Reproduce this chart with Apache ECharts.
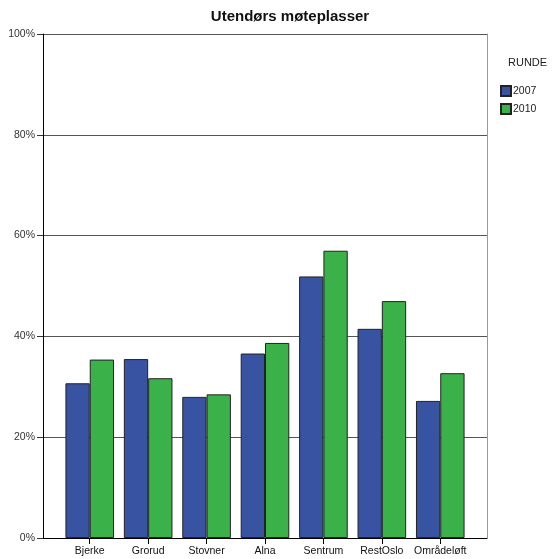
<!DOCTYPE html>
<html>
<head>
<meta charset="utf-8">
<script src="https://cdn.jsdelivr.net/npm/echarts@6/dist/echarts.min.js"></script>
<style>
html,body{margin:0;padding:0;background:#fff;}
#chart{width:554px;height:559px;}
</style>
</head>
<body>
<div id="chart"></div>
<script>
const categories = ['Bjerke','Grorud','Stovner','Alna','Sentrum','RestOslo','Områdeløft'];
const values2007 = [30.7, 35.5, 28.0, 36.6, 51.9, 41.5, 27.2];
const values2010 = [35.4, 31.7, 28.5, 38.7, 57.0, 47.0, 32.7];
const seriesNames = ['2007','2010'];
const yTicks = [0,20,40,60,80,100];

const idx = categories.map((c,i)=>i);
const font = 'Liberation Sans, Arial, sans-serif';
const chart = echarts.init(document.getElementById('chart'), null, {renderer:'canvas'});
chart.setOption({
  animation:false,
  backgroundColor:'#fff',
  title:[
    {text:'Utendørs møteplasser', left:290, top:9, padding:0, textAlign:'center',
     textStyle:{fontFamily:font,fontSize:15,fontWeight:'bold',color:'#111'}},
    {text:'RUNDE', left:508, top:57, padding:0,
     textStyle:{fontFamily:font,fontSize:11,fontWeight:'normal',color:'#222'}}
  ],
  legend:{
    orient:'vertical', left:500, top:85, padding:0, itemWidth:10, itemHeight:10, itemGap:6,
    icon:'rect', data:seriesNames,
    textStyle:{fontFamily:font,fontSize:10.5,color:'#222',padding:[0,0,0,-3]}
  },
  grid:{left:43, right:67, top:34, bottom:21},
  xAxis:[{
    type:'value', min:-0.8, max:6.8,
    axisLine:{show:true,onZero:false,lineStyle:{color:'#000',width:1}},
    axisTick:{show:true,length:6,customValues:idx,lineStyle:{color:'#000'}},
    axisLabel:{show:true,customValues:idx,margin:8,fontFamily:font,fontSize:10.5,color:'#111',
      formatter:v=>categories[Math.round(v)]},
    splitLine:{show:false}
  }],
  yAxis:[{
    type:'value', min:0, max:100, interval:20,
    axisLine:{show:true,onZero:false,lineStyle:{color:'#000',width:1}},
    axisTick:{show:true,length:6,lineStyle:{color:'#333'}},
    axisLabel:{margin:8,fontFamily:font,fontSize:10.5,color:'#333',formatter:'{value}%'},
    splitLine:{show:true,lineStyle:{color:'#555',width:1}}
  },{
    type:'value', min:0, max:100, interval:20, position:'right',
    axisLine:{show:true,onZero:false,lineStyle:{color:'#999',width:1}},
    axisTick:{show:false}, axisLabel:{show:false}, splitLine:{show:false}
  }],
  series:[
    {name:seriesNames[0], type:'bar', barWidth:24.3, barGap:'0%',
     data:values2007.map((v,i)=>[idx[i],v]),
     itemStyle:{color:'#3953a3',borderColor:'#222',borderWidth:1}},
    {name:seriesNames[1], type:'bar', barWidth:24.3, barGap:'0%',
     data:values2010.map((v,i)=>[idx[i],v]),
     itemStyle:{color:'#3bb14a',borderColor:'#222',borderWidth:1}}
  ]
});
</script>
</body>
</html>
